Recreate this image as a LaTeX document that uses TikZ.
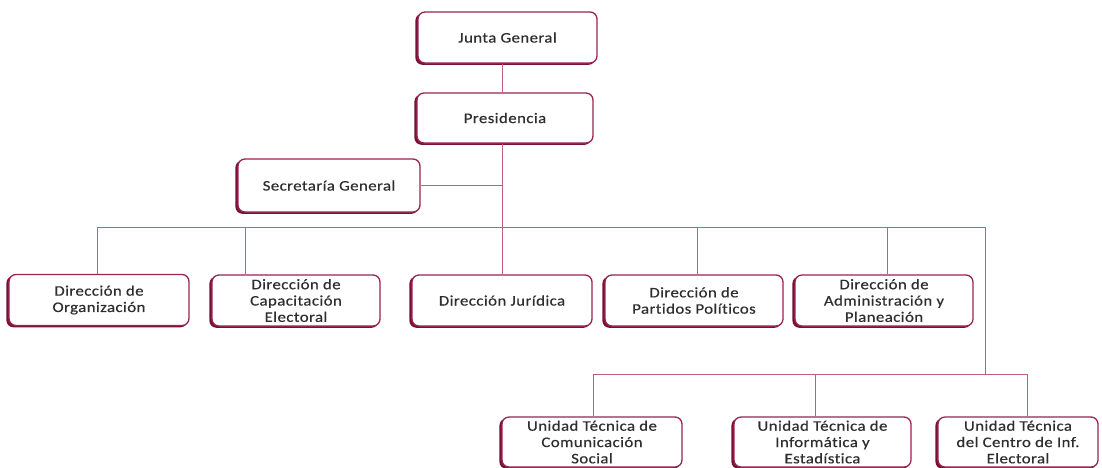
\documentclass[tikz,border=0pt]{standalone}
\usepackage{fontspec}
\setmainfont{Carlito}[FakeStretch=1.15,LetterSpace=3,Ligatures=NoCommon,FakeBold=0.4]
\definecolor{boxc}{HTML}{9A2450}
\definecolor{shadc}{HTML}{7A1035}
\definecolor{linec}{HTML}{C0607E}
\tikzset{
  orgbox/.style={draw=boxc, line width=1.3pt, rounded corners=7pt, fill=white,
    align=center, inner sep=0pt, font=\fontsize{14.6}{16.3}\selectfont, text=black!82,
    minimum height=51pt},
  conn/.style={draw=linec, line width=0.9pt},
}
\begin{document}
\begin{tikzpicture}[x=1pt,y=-1pt]
\useasboundingbox (0,0) rectangle (1102,467);
% shadows
\foreach \cx/\cy/\w/\h in {507.5/37.5/179/51, 505/118/176/50, 329/185.5/182/53,
   99/300/180/51, 296/300.5/168/51, 502/300.5/180/51, 694/300.5/178/51, 884/300.5/178/51,
   592/442/180/50, 822.5/442/177/50, 1018/442/160/50}{
  \fill[shadc, rounded corners=7pt] ({\cx-\w/2-2.6},{\cy-\h/2+1.5}) rectangle ({\cx+\w/2-1.5},{\cy+\h/2+1.8});
}
\node[orgbox, minimum width=179pt] (jg) at (507.5,37.5) {Junta General};
\node[orgbox, minimum width=176pt, minimum height=50pt] (pres) at (505,118) {Presidencia};
\node[orgbox, minimum width=182pt, minimum height=53pt] (sec) at (329,185.5) {Secretaría General};
\node[orgbox, minimum width=180pt] (d1) at (99,300) {Dirección de\\Organización};
\node[orgbox, minimum width=168pt] (d2) at (296,300.5) {Dirección de\\Capacitación\\Electoral};
\node[orgbox, minimum width=180pt] (d3) at (502,300.5) {Dirección Jurídica};
\node[orgbox, minimum width=178pt] (d4) at (694,300.5) {Dirección de\\Partidos Políticos};
\node[orgbox, minimum width=178pt] (d5) at (884,300.5) {Dirección de\\Administración y\\Planeación};
\node[orgbox, minimum width=180pt, minimum height=50pt] (u1) at (592,442) {Unidad Técnica de\\Comunicación\\Social};
\node[orgbox, minimum width=177pt, minimum height=50pt] (u2) at (822.5,442) {Unidad Técnica de\\Informática y\\Estadística};
\node[orgbox, minimum width=160pt, minimum height=50pt] (u3) at (1018,442) {Unidad Técnica\\del Centro de Inf.\\Electoral};
% connector coordinates
\coordinate (t) at (502,227);
\coordinate (bl) at (97,227);
\coordinate (br) at (985,227);
\coordinate (b2) at (985,374);
\coordinate (b2l) at (593,374);
\coordinate (b2r) at (1027,374);
\draw[conn] (jg.south -| t) -- (pres.north -| t);
\draw[conn] (pres.south -| t) -- (t);
\draw[conn] (sec.east) -- (sec.east -| t);
\draw[conn] (bl) -- (br) -- (b2);
\draw[conn] (bl) -- (d1.north -| bl);
\draw[conn] (245,227) -- (d2.north -| 245,0);
\draw[conn] (t) -- (d3.north -| t);
\draw[conn] (697,227) -- (d4.north -| 697,0);
\draw[conn] (887,227) -- (d5.north -| 887,0);
\draw[conn] (b2l) -- (b2r);
\draw[conn] (b2l) -- (u1.north -| b2l);
\draw[conn] (815,374) -- (u2.north -| 815,0);
\draw[conn] (b2r) -- (u3.north -| b2r);
\end{tikzpicture}
\end{document}
